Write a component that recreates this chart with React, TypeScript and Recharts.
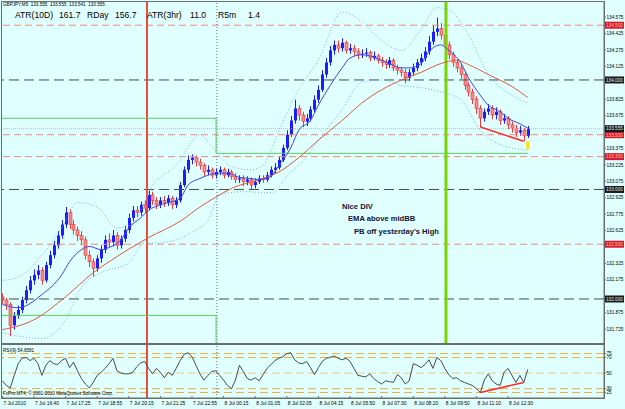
import React from 'react';
import { ComposedChart, Bar, Line, XAxis, YAxis, ReferenceLine } from 'recharts';

// GBPJPY M5, 7-8 Jul 2010: one entry per bar
const OPEN = [
  132.02, 131.99, 131.95, 131.76, 131.85, 131.90, 131.99, 132.08, 132.17, 132.22,
  132.26, 132.17, 132.31, 132.40, 132.49, 132.58, 132.68, 132.79, 132.68, 132.63,
  132.58, 132.54, 132.40, 132.34, 132.28, 132.37, 132.45, 132.54, 132.52, 132.58,
  132.49, 132.55, 132.63, 132.74, 132.81, 132.79, 132.86, 132.83, 132.95, 132.90,
  132.86, 132.90, 132.88, 132.92, 132.86, 132.90, 133.04, 133.18, 133.27, 133.29,
  133.25, 133.22, 133.16, 133.18, 133.13, 133.16, 133.18, 133.13, 133.16, 133.12,
  133.09, 133.10, 133.07, 133.09, 133.04, 133.07, 133.10, 133.09, 133.13, 133.18,
  133.20, 133.27, 133.38, 133.50, 133.63, 133.74, 133.68, 133.62, 133.65, 133.73,
  133.82, 133.91, 134.05, 134.16, 134.27, 134.32, 134.29, 134.34, 134.27, 134.29,
  134.26, 134.23, 134.24, 134.25, 134.20, 134.22, 134.18, 134.16, 134.14, 134.18,
  134.11, 134.09, 134.07, 134.02, 134.07, 134.11, 134.16, 134.20, 134.26, 134.35,
  134.44, 134.47, 134.41, 134.32, 134.23, 134.16, 134.11, 134.05, 133.95, 133.89,
  133.82, 133.74, 133.65, 133.71, 133.74, 133.68, 133.71, 133.63, 133.65, 133.59,
  133.56, 133.52, 133.54, 133.49,
];
const HIGH = [
  132.05, 132.01, 131.97, 131.88, 131.94, 132.02, 132.12, 132.21, 132.27, 132.31,
  132.29, 132.34, 132.44, 132.53, 132.62, 132.72, 132.84, 132.82, 132.72, 132.66,
  132.62, 132.57, 132.44, 132.37, 132.40, 132.49, 132.58, 132.60, 132.63, 132.61,
  132.58, 132.67, 132.78, 132.85, 132.85, 132.89, 132.90, 132.99, 132.98, 132.93,
  132.93, 132.94, 132.95, 132.94, 132.93, 133.07, 133.21, 133.31, 133.32, 133.31,
  133.28, 133.24, 133.22, 133.20, 133.19, 133.21, 133.20, 133.19, 133.18, 133.15,
  133.13, 133.13, 133.12, 133.11, 133.10, 133.13, 133.13, 133.16, 133.21, 133.24,
  133.30, 133.41, 133.54, 133.67, 133.82, 133.77, 133.71, 133.69, 133.76, 133.86,
  133.95, 134.09, 134.20, 134.31, 134.36, 134.36, 134.38, 134.36, 134.33, 134.32,
  134.29, 134.28, 134.29, 134.27, 134.26, 134.24, 134.21, 134.19, 134.21, 134.20,
  134.14, 134.12, 134.10, 134.10, 134.15, 134.19, 134.24, 134.30, 134.40, 134.50,
  134.57, 134.52, 134.44, 134.35, 134.26, 134.19, 134.14, 134.08, 133.98, 133.92,
  133.85, 133.77, 133.74, 133.78, 133.77, 133.75, 133.73, 133.69, 133.67, 133.62,
  133.59, 133.58, 133.56, 133.58,
];
const LOW = [
  131.95, 131.90, 131.66, 131.72, 131.82, 131.87, 131.96, 132.05, 132.13, 132.18,
  132.13, 132.15, 132.28, 132.37, 132.46, 132.55, 132.65, 132.64, 132.59, 132.53,
  132.49, 132.36, 132.29, 132.20, 132.25, 132.33, 132.42, 132.47, 132.48, 132.45,
  132.46, 132.52, 132.60, 132.71, 132.75, 132.76, 132.79, 132.81, 132.86, 132.82,
  132.83, 132.84, 132.85, 132.82, 132.83, 132.88, 133.02, 133.15, 133.23, 133.21,
  133.18, 133.12, 133.13, 133.10, 133.10, 133.13, 133.10, 133.11, 133.09, 133.06,
  133.06, 133.03, 133.04, 133.00, 133.01, 133.05, 133.06, 133.07, 133.11, 133.15,
  133.18, 133.25, 133.36, 133.48, 133.60, 133.63, 133.57, 133.58, 133.62, 133.70,
  133.79, 133.89, 134.02, 134.13, 134.23, 134.25, 134.26, 134.24, 134.24, 134.22,
  134.19, 134.20, 134.21, 134.17, 134.18, 134.15, 134.12, 134.10, 134.11, 134.08,
  134.05, 134.03, 133.97, 133.99, 134.04, 134.08, 134.13, 134.17, 134.23, 134.32,
  134.40, 134.37, 134.28, 134.19, 134.12, 134.07, 134.01, 133.91, 133.85, 133.78,
  133.69, 133.57, 133.62, 133.68, 133.64, 133.64, 133.59, 133.60, 133.55, 133.52,
  133.48, 133.49, 133.44, 133.47,
];
const CLOSE = [
  131.99, 131.95, 131.76, 131.85, 131.90, 131.99, 132.08, 132.17, 132.22, 132.26,
  132.17, 132.31, 132.40, 132.49, 132.58, 132.68, 132.79, 132.68, 132.63, 132.58,
  132.54, 132.40, 132.34, 132.28, 132.37, 132.45, 132.54, 132.52, 132.58, 132.49,
  132.55, 132.63, 132.74, 132.81, 132.79, 132.86, 132.83, 132.95, 132.90, 132.86,
  132.90, 132.88, 132.92, 132.86, 132.90, 133.04, 133.18, 133.27, 133.29, 133.25,
  133.22, 133.16, 133.18, 133.13, 133.16, 133.18, 133.13, 133.16, 133.12, 133.09,
  133.10, 133.07, 133.09, 133.04, 133.07, 133.10, 133.09, 133.13, 133.18, 133.20,
  133.27, 133.38, 133.50, 133.63, 133.74, 133.68, 133.62, 133.65, 133.73, 133.82,
  133.91, 134.05, 134.16, 134.27, 134.32, 134.29, 134.34, 134.27, 134.29, 134.26,
  134.23, 134.24, 134.25, 134.20, 134.22, 134.18, 134.16, 134.14, 134.18, 134.11,
  134.09, 134.07, 134.02, 134.07, 134.11, 134.16, 134.20, 134.26, 134.35, 134.44,
  134.47, 134.41, 134.32, 134.23, 134.16, 134.11, 134.05, 133.95, 133.89, 133.82,
  133.74, 133.65, 133.71, 133.74, 133.68, 133.71, 133.63, 133.65, 133.59, 133.56,
  133.52, 133.54, 133.49, 133.555,
];
const RSI = [
  40, 34, 31, 47, 62, 69, 70, 66, 69, 62, 47, 60, 66, 62, 61, 66, 69, 57, 64, 53,
  43, 36, 31, 38, 47, 51, 56, 62, 69, 53, 50, 49, 49, 51, 58, 63, 65, 56, 49, 56,
  51, 44, 51, 47, 56, 66, 74, 76, 71, 60, 49, 41, 47, 52, 53, 47, 41, 34, 30, 41,
  60, 52, 43, 41, 44, 40, 48, 56, 61, 66, 69, 71, 75, 76, 67, 63, 62, 65, 57, 48,
  57, 65, 69, 70, 72, 69, 67, 69, 65, 56, 47, 46, 45, 49, 43, 39, 36, 40, 39, 38,
  48, 44, 36, 40, 62, 60, 57, 61, 67, 56, 70, 66, 56, 48, 43, 44, 40, 38, 36, 34,
  30, 25, 41, 49, 40, 36, 34, 51, 56, 47, 38, 47, 38, 54.66,
];

// indicator lines, [bar, price]
const EMA_FAST: [number, number][] = [
  [0, 131.95], [4, 131.92], [10, 132.04], [15, 132.22], [17, 132.34], [20, 132.45], [22, 132.48],
  [25, 132.45], [27, 132.47], [30, 132.54], [32, 132.65], [35, 132.74], [37, 132.81], [40, 132.86],
  [42, 132.88], [45, 132.92], [47, 133.04], [50, 133.10], [52, 133.13], [55, 133.15], [58, 133.14],
  [60, 133.11], [63, 133.10], [65, 133.09], [68, 133.12], [70, 133.22], [73, 133.38], [75, 133.54],
  [78, 133.63], [80, 133.77], [83, 133.95], [86, 134.11], [88, 134.20], [91, 134.23], [93, 134.22],
  [96, 134.18], [98, 134.15], [101, 134.11], [103, 134.11], [106, 134.15], [108, 134.26], [111, 134.32],
  [113, 134.27], [116, 134.16], [118, 134.02], [121, 133.86], [123, 133.77], [126, 133.71], [128, 133.65],
  [131, 133.60], [133, 133.56],
];
const EMA_SLOW: [number, number][] = [
  [0, 131.72], [8, 131.81], [16, 132.02], [23, 132.24], [27, 132.34], [37, 132.56], [45, 132.71],
  [50, 132.84], [54, 132.93], [58, 133.01], [65, 133.09], [70, 133.16], [75, 133.29], [80, 133.45],
  [86, 133.63], [91, 133.79], [96, 133.91], [101, 134.00], [106, 134.07], [111, 134.15], [115, 134.18],
  [118, 134.14], [123, 134.05], [129, 133.94], [133, 133.84],
];
const BB_UPPER: [number, number][] = [
  [0, 132.17], [4, 132.20], [10, 132.40], [15, 132.65], [19, 132.88], [24, 132.84], [29, 132.65],
  [33, 132.69], [38, 133.04], [44, 133.22], [50, 133.50], [53, 133.39], [58, 133.21], [63, 133.18],
  [66, 133.22], [70, 133.54], [75, 133.91], [80, 134.18], [86, 134.62], [91, 134.53], [96, 134.36],
  [101, 134.27], [106, 134.46], [110, 134.66], [113, 134.64], [118, 134.41], [123, 134.05], [129, 133.86],
  [133, 133.79],
];
const BB_LOWER: [number, number][] = [
  [0, 131.69], [10, 131.64], [16, 131.81], [20, 132.11], [25, 132.24], [32, 132.33], [36, 132.51],
  [39, 132.51], [48, 132.61], [52, 132.72], [55, 132.95], [61, 132.98], [68, 132.97], [73, 133.16],
  [75, 133.22], [80, 133.45], [86, 133.73], [91, 133.98], [96, 134.00], [101, 133.95], [106, 133.93],
  [111, 133.89], [116, 133.82], [121, 133.54], [126, 133.41], [133, 133.36],
];
// previous day high / low
const PREV_HIGH: [number, number][] = [[-0.1, 133.65], [54.1, 133.65], [54.1, 133.33], [133, 133.33]];
const PREV_LOW: [number, number][] = [[-0.1, 131.85], [54.1, 131.85], [54.1, 131.6]];

const RED_LEVELS = [134.5, 133.5, 133.3, 132.5];
const ROUND_LEVELS = [134, 133, 132];
const BID = 133.555;
const RSI_LEVELS = [75, 70, 50, 30, 25];

// scale labels not hidden under the level tags
const PRICE_TICKS = [
  134.575, 134.425, 134.275, 134.125, 133.825, 133.675, 133.375, 133.225,
  133.075, 132.925, 132.775, 132.625, 132.325, 132.175, 131.875, 131.725,
];
const TIME_TICKS = [0, 8, 16, 24, 32, 40, 48, 56, 64, 72, 80, 88, 96, 104, 112, 120, 128];
const TIME_LABELS = [
  '7 Jul 2010', '7 Jul 16:40', '7 Jul 17:25', '7 Jul 18:55', '7 Jul 20:15', '7 Jul 21:25',
  '7 Jul 22:55', '8 Jul 00:15', '8 Jul 01:05', '8 Jul 02:05', '8 Jul 04:15', '8 Jul 05:50',
  '8 Jul 07:30', '8 Jul 08:20', '8 Jul 09:50', '8 Jul 11:10', '8 Jul 12:30',
];
const RED_BAR = 36.6;
const DAY_BREAK = 54.3;
const GREEN_BAR = 112.3;

const BG = '#e0ffff';
const FRAME = '#6e6e6e';
const UP = '#1c1cff';
const DOWN = '#e83a3a';
const FONT = '"Liberation Sans", Arial, sans-serif';
const X_DOMAIN: [number, number] = [-0.1, 152.3];

const candles = CLOSE.map((c, i) => ({ i, o: OPEN[i], h: HIGH[i], l: LOW[i], c }));
const rsiData = RSI.map((r, i) => ({ i, r }));
const pts = (a: [number, number][]) => a.map(([i, v]) => ({ i, v }));

function Candle(props: any) {
  const { x, y, width, height, payload } = props;
  const top = Math.min(y, y + height);
  const bot = Math.max(y, y + height);
  const k = (bot - top) / (payload.h - payload.l);
  const cx = Math.round(x + width / 2) + 0.5;
  const yo = top + (payload.h - payload.o) * k;
  const yc = top + (payload.h - payload.c) * k;
  const up = payload.c >= payload.o;
  const bt = Math.min(yo, yc);
  const bh = Math.max(1, Math.abs(yc - yo));
  return (
    <g>
      <line x1={cx} x2={cx} y1={top} y2={bot} stroke={up ? UP : DOWN} strokeWidth={1} />
      <rect x={cx - 1.5} y={bt} width={3} height={bh} fill={up ? UP : '#f58a8a'} stroke={up ? UP : DOWN} strokeWidth={up ? 0 : 0.6} />
    </g>
  );
}

const tag = (text: string, bg: string, fg: string) => (p: any) => {
  const { x, y, width } = p.viewBox;
  return (
    <g>
      <rect x={x + width + 1} y={y - 3.5} width={19} height={7} fill={bg} />
      <text x={x + width + 2} y={y + 1.8} fontSize={4.7} fill={fg} fontFamily={FONT}>{text}</text>
    </g>
  );
};

function TimeTick(props: any) {
  const { x, y, payload } = props;
  const idx = TIME_TICKS.indexOf(payload.value);
  return (
    <g>
      <line x1={x} x2={x} y1={y - 2} y2={y + 1} stroke={FRAME} />
      <text x={x + 1} y={y + 6.5} fontSize={4.9} fill="#000" fontFamily={FONT}>{TIME_LABELS[idx]}</text>
    </g>
  );
}

const abs = (left: number, top: number, extra: React.CSSProperties = {}): React.CSSProperties => ({
  position: 'absolute', left, top, fontFamily: FONT, whiteSpace: 'pre', lineHeight: 1, ...extra,
});

export default function App() {
  return (
    <div style={{ position: 'relative', width: 625, height: 409, background: BG, overflow: 'hidden' }}>
      <style>{'body{margin:0}'}</style>

      <div style={{ position: 'absolute', left: 0, top: 0 }}>
        <ComposedChart width={625} height={344} data={candles} margin={{ top: 2, right: 0, bottom: 1, left: 2 }}>
          <XAxis dataKey="i" type="number" domain={X_DOMAIN} allowDataOverflow hide />
          <YAxis orientation="right" width={21} domain={[131.598, 134.712]} allowDataOverflow ticks={PRICE_TICKS}
            tickFormatter={(v: number) => v.toFixed(3)} tick={{ fontSize: 4.7, fill: '#000', fontFamily: FONT }}
            tickSize={2} tickMargin={0.5} axisLine={{ stroke: FRAME }} tickLine={{ stroke: FRAME }} interval={0} />

          {RED_LEVELS.map((v) => (
            <ReferenceLine key={'r' + v} y={v} stroke="#f28a78" strokeDasharray="7 4" label={tag(v.toFixed(3), '#d9163c', '#ffcf7a')} />
          ))}
          {ROUND_LEVELS.map((v) => (
            <ReferenceLine key={'k' + v} y={v} stroke="#4a4a4a" strokeDasharray="10 5" label={tag(v.toFixed(3), '#1a1a1a', '#e8e8e8')} />
          ))}
          <ReferenceLine y={BID} stroke="#9cc4dc" strokeDasharray="1 1" label={tag(BID.toFixed(3), '#1a1a1a', '#e8e8e8')} />

          <ReferenceLine x={RED_BAR} stroke="#e84a3c" strokeWidth={2} />
          <ReferenceLine x={DAY_BREAK} stroke="#6a6a8a" strokeDasharray="1 2" />
          <ReferenceLine x={GREEN_BAR} stroke="#7ad400" strokeWidth={3} />

          <Line data={pts(PREV_HIGH)} dataKey="v" type="linear" stroke="#5ccc5c" dot={false} isAnimationActive={false} />
          <Line data={pts(PREV_LOW)} dataKey="v" type="linear" stroke="#5ccc5c" dot={false} isAnimationActive={false} />
          <Line data={pts(BB_UPPER)} dataKey="v" type="monotone" stroke="#6fb4f0" strokeDasharray="1 2" dot={false} isAnimationActive={false} />
          <Line data={pts(BB_LOWER)} dataKey="v" type="monotone" stroke="#6fb4f0" strokeDasharray="1 2" dot={false} isAnimationActive={false} />
          <Line data={pts(EMA_SLOW)} dataKey="v" type="monotone" stroke="#e2583a" dot={false} isAnimationActive={false} />
          <Line data={pts(EMA_FAST)} dataKey="v" type="monotone" stroke="#3c46e6" dot={false} isAnimationActive={false} />

          <Bar dataKey={(d: any) => [d.l, d.h]} barSize={3} shape={Candle} isAnimationActive={false} />

          <ReferenceLine segment={[{ x: 121, y: LOW[121] }, { x: 132, y: LOW[132] }]} stroke="#ff2a2a" strokeWidth={1.5} />
          <ReferenceLine segment={[{ x: 133, y: LOW[133] - 0.03 }, { x: 133, y: LOW[133] - 0.1 }]} stroke="#ffe000" strokeWidth={3} />
        </ComposedChart>
      </div>

      <div style={{ position: 'absolute', left: 0, top: 344 }}>
        <ComposedChart width={625} height={65} data={rsiData} margin={{ top: 1, right: 0, bottom: 0, left: 2 }}>
          <XAxis dataKey="i" type="number" domain={X_DOMAIN} allowDataOverflow ticks={TIME_TICKS} height={11}
            tick={<TimeTick />} tickSize={0} tickMargin={0} tickLine={false} axisLine={{ stroke: FRAME }} interval={0} />
          <YAxis orientation="right" width={21} domain={[18, 86]} allowDataOverflow ticks={RSI_LEVELS}
            tick={{ fontSize: 4.7, fill: '#000', fontFamily: FONT }} tickSize={2} tickMargin={0.5}
            axisLine={{ stroke: FRAME }} tickLine={{ stroke: FRAME }} interval={0} />
          {RSI_LEVELS.map((v) => (
            <ReferenceLine key={v} y={v} stroke={v === 50 ? '#f3c77a' : '#f1ad3c'} strokeDasharray="8 4" />
          ))}
          <ReferenceLine x={RED_BAR} stroke="#e84a3c" strokeWidth={2} />
          <ReferenceLine x={DAY_BREAK} stroke="#6a6a8a" strokeDasharray="1 2" />
          <Line dataKey="r" type="linear" stroke="#4a4a4a" strokeWidth={1} dot={false} isAnimationActive={false} />
          <ReferenceLine segment={[{ x: 121, y: RSI[121] }, { x: 132, y: RSI[132] }]} stroke="#ff2a2a" strokeWidth={1.5} />
        </ComposedChart>
      </div>

      {/* panel frames */}
      <div style={{ position: 'absolute', left: 1, top: 1, width: 602, height: 341, border: `1px solid ${FRAME}` }} />
      <div style={{ position: 'absolute', left: 1, top: 344, width: 602, height: 53, border: `1px solid ${FRAME}` }} />

      <div style={abs(3, 3, { fontSize: 4.6 })}>GBPJPY,M5  133.555  133.555  133.541  133.555</div>
      <div style={abs(15, 11, { fontSize: 8.6 })}>ATR(10D)</div>
      <div style={abs(59, 11, { fontSize: 8.6 })}>161.7</div>
      <div style={abs(87, 11, { fontSize: 8.6 })}>RDay</div>
      <div style={abs(115, 11, { fontSize: 8.6 })}>156.7</div>
      <div style={abs(147, 11, { fontSize: 8.6 })}>ATR(3hr)</div>
      <div style={abs(190, 11, { fontSize: 8.6 })}>11.0</div>
      <div style={abs(218, 11, { fontSize: 8.6 })}>R5m</div>
      <div style={abs(248, 11, { fontSize: 8.6 })}>1.4</div>

      <div style={abs(342, 203, { fontSize: 7.6, fontWeight: 700, color: '#121236' })}>Nice DIV</div>
      <div style={abs(348, 215, { fontSize: 7.6, fontWeight: 700, color: '#121236' })}>EMA above midBB</div>
      <div style={abs(354, 228, { fontSize: 7.6, fontWeight: 700, color: '#121236' })}>PB off yesterday's High</div>

      <div style={abs(3, 349, { fontSize: 4.6 })}>RSI(9) 54.6581</div>
      <div style={abs(3, 392, { fontSize: 4.6 })}>FxPro MT4, © 2001-2010 MetaQuotes Software Corp.</div>
    </div>
  );
}
